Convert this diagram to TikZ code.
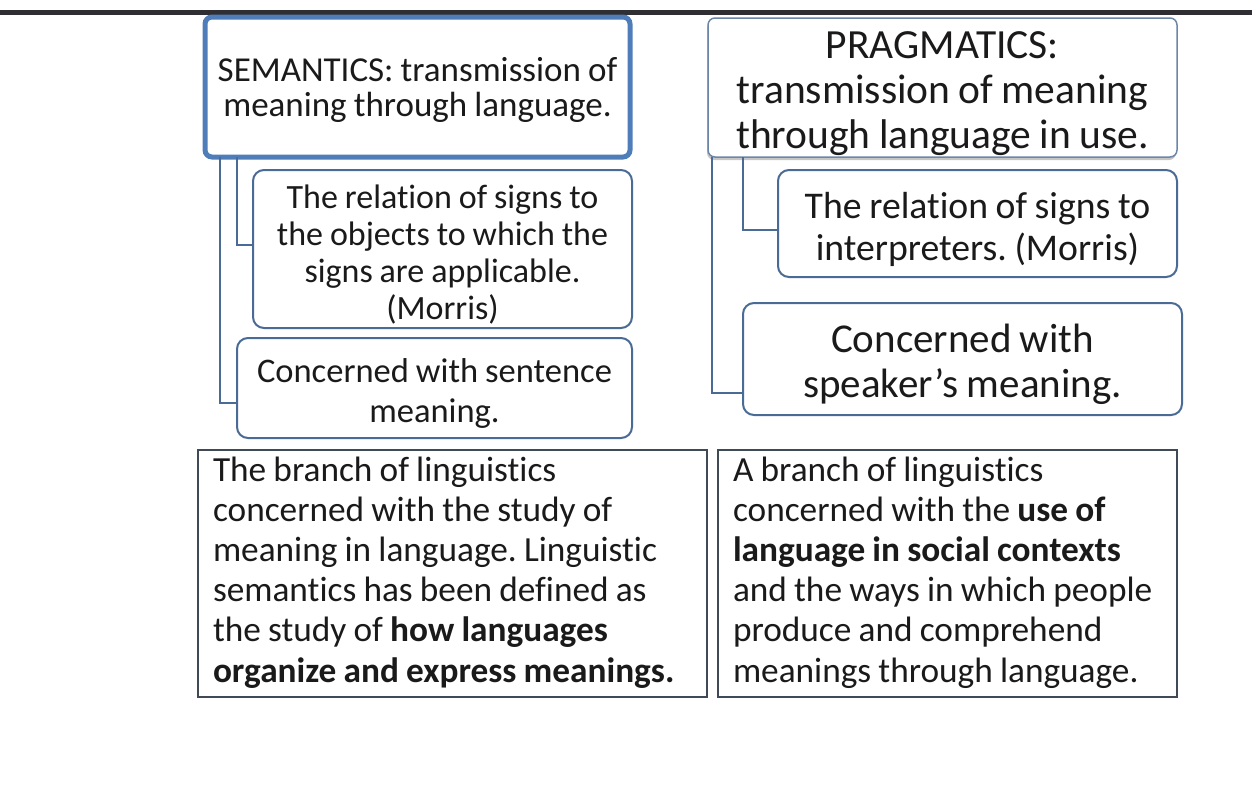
\documentclass[tikz,border=0pt]{standalone}
\usepackage{fontspec}
\setmainfont{Carlito}[Ligatures=NoCommon, WordSpace=0.9]
\usetikzlibrary{shadows}
\frenchspacing

\definecolor{barcol}{HTML}{2E2E33}
\definecolor{semblue}{HTML}{4F7DBA}
\definecolor{nodeblue}{HTML}{4A6B96}
\definecolor{pragedge}{HTML}{6C86A8}
\definecolor{defedge}{HTML}{3F4A56}
\definecolor{textcol}{HTML}{1A1A1A}

% text lines set lower in their box, box size unchanged
\newcommand{\lowered}[2]{\raisebox{-#1}[\height][\depth]{\begin{tabular}{@{}c@{}}#2\end{tabular}}}
\newcommand{\leftlines}[1]{\spaceskip=0pt\xspaceskip=0pt\begin{tabular}{@{}l@{}}#1\end{tabular}}

\tikzset{
    semhead/.style={draw=semblue, line width=5pt, rounded corners=7pt, fill=white,
        anchor=north west, inner sep=0pt, outer sep=0pt, align=center,
        text=textcol, font=\fontsize{35}{35}\selectfont},
    praghead/.style={draw=pragedge, line width=1.5pt, rounded corners=7pt, fill=white,
        drop shadow={opacity=0.45, shadow xshift=-1pt, shadow yshift=-3pt},
        anchor=north west, inner sep=0pt, outer sep=0pt, align=center,
        text=textcol, font=\fontsize{41.5}{45}\selectfont},
    subbox/.style={draw=nodeblue, line width=2pt, rounded corners=11pt, fill=white,
        anchor=north west, inner sep=0pt, outer sep=0pt, align=center, text=textcol},
    defbox/.style={draw=defedge, line width=2.5pt, fill=white,
        anchor=north west, inner xsep=15pt, inner ysep=0pt, outer sep=0pt,
        align=left, text=textcol, font=\fontsize{35.3}{40.2}\selectfont},
    link/.style={draw=nodeblue, line width=2.5pt}
}

\begin{document}
\begin{tikzpicture}[x=1pt, y=-1pt]
    \useasboundingbox (0,0) rectangle (1252,803);

    % top rule
    \draw[barcol, line width=5pt] (0,12) -- (1252,12);

    % Semantics column
    \node[semhead, minimum width=425pt, minimum height=140pt] (sem) at (205,17)
        {\lowered{5pt}{SEMANTICS: transmission of\\meaning through language.}};
    \node[subbox, minimum width=379pt, minimum height=158pt,
          font=\fontsize{34}{37}\selectfont] (semA) at (253,170)
        {\lowered{8pt}{The relation of signs to\\the objects to which the\\signs are applicable.\\(Morris)}};
    \node[subbox, minimum width=395pt, minimum height=100pt,
          font=\fontsize{34.5}{40}\selectfont] (semB) at (237,338)
        {\lowered{6pt}{Concerned with sentence\\meaning.}};

    % Pragmatics column
    \node[praghead, minimum width=469pt, minimum height=139pt] (prag) at (708,18)
        {\lowered{7pt}{PRAGMATICS:\\transmission of meaning\\through language in use.}};
    \node[subbox, minimum width=399pt, minimum height=107pt,
          font=\fontsize{37.7}{42}\selectfont] (pragA) at (778,170)
        {\lowered{8pt}{The relation of signs to\\interpreters. (Morris)}};
    \node[subbox, minimum width=439pt, minimum height=112pt,
          font=\fontsize{41}{45}\selectfont] (pragB) at (743,303)
        {\lowered{7pt}{Concerned with\\speaker’s meaning.}};

    % Draw links
    \draw[link] ([xshift=32pt]sem.south west) |- ([yshift=4pt]semA.west);
    \draw[link] ([xshift=15pt]sem.south west) |- ([yshift=-15pt]semB.west);
    \draw[link] ([xshift=35pt]prag.south west) |- ([yshift=-6.5pt]pragA.west);
    \draw[link] ([xshift=4pt]prag.south west) |- ([yshift=-34pt]pragB.west);

    % Definitions
    \node[defbox, text width=479pt, minimum height=247pt] (semdef) at (198,450)
        {\leftlines{The branch of linguistics\\concerned with the study of\\meaning in language. Linguistic\\semantics has been defined as\\the study of \textbf{how languages}\\\textbf{organize and express meanings.}}};
    \node[defbox, text width=429pt, minimum height=247pt] (pragdef) at (718,450)
        {\leftlines{A branch of linguistics\\concerned with the \textbf{use of}\\\textbf{language in social contexts}\\and the ways in which people\\produce and comprehend\\meanings through language.}};
\end{tikzpicture}
\end{document}
